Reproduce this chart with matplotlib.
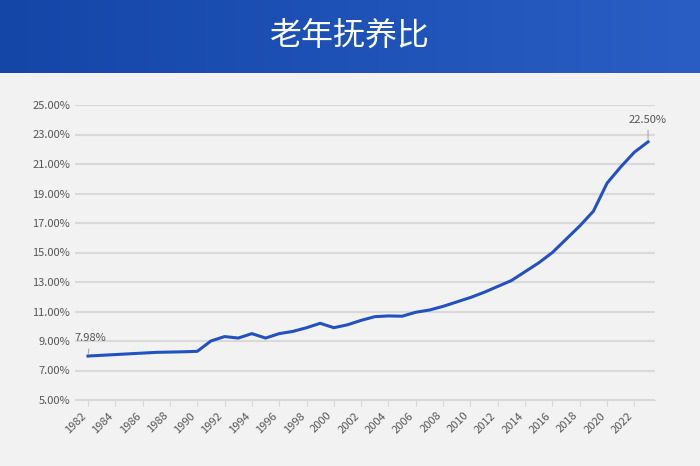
import matplotlib
matplotlib.use("Agg")
import matplotlib.pyplot as plt
import numpy as np
from matplotlib.colors import LinearSegmentedColormap

years = list(range(1982, 2024))
values = [7.98, 8.03, 8.08, 8.13, 8.18, 8.23, 8.25, 8.27, 8.30, 9.00, 9.30, 9.20, 9.50, 9.20, 9.50, 9.65, 9.90, 10.20,
          9.90, 10.10, 10.40, 10.65, 10.70, 10.68, 10.95, 11.10, 11.35, 11.65, 11.95, 12.30, 12.70, 13.10, 13.70, 14.30,
          15.00, 15.90, 16.80, 17.80, 19.70, 20.80, 21.80, 22.50]
yticks = [5, 7, 9, 11, 13, 15, 17, 19, 21, 23, 25]

plt.rcParams['font.family'] = ['Noto Sans CJK SC', 'DejaVu Sans']
fig = plt.figure(figsize=(7, 4.66), dpi=100, facecolor='#f2f2f2')

bax = fig.add_axes([0, 1 - 73/466, 1, 73/466])
grad = np.linspace(0, 1, 256).reshape(1, -1)
cmap = LinearSegmentedColormap.from_list('b', ['#1446a8', '#2a5ec4'])
bax.imshow(grad, aspect='auto', cmap=cmap, extent=[0, 1, 0, 1])
bax.set_axis_off()
bax.text(0.5, 0.5, '老年抚养比', color='white', fontsize=23, ha='center', va='center', transform=bax.transAxes)

ax = fig.add_axes([75/700, 1 - 400/466, 580/700, 295/466])
ax.set_facecolor('#f2f2f2')
ax.plot(years, values, color='#2352c0', lw=2.2)
ax.set_ylim(5, 25)
ax.set_xlim(1981.05, 2023.51)
ax.set_yticks(yticks)
ax.set_yticklabels([f'{v:.2f}%' for v in yticks], fontsize=8, color='#555555')
ax.set_xticks(years[::2])
ax.set_xticklabels([str(y) for y in years[::2]], rotation=45, ha='right', fontsize=8, color='#555555')
ax.grid(axis='y', color='#d9d9d9', lw=1.5)
ax.set_axisbelow(True)
for s in ['top', 'right', 'left']:
    ax.spines[s].set_visible(False)
ax.spines['bottom'].set_color('#d9d9d9')
ax.tick_params(axis='y', length=0)
ax.tick_params(axis='x', color='#d9d9d9', length=4)
ax.annotate('7.98%', (years[0], values[0]), xytext=(years[0] - 1.0, values[0] + 1.0), fontsize=8, color='#555555',
            arrowprops=dict(arrowstyle='-', color='#aaaaaa', lw=0.8))
ax.annotate('22.50%', (years[-1], values[-1]), xytext=(years[-1], values[-1] + 1.3), fontsize=8, color='#555555',
            ha='center', arrowprops=dict(arrowstyle='-', color='#aaaaaa', lw=0.8))
fig.savefig('out.png', dpi=100, facecolor=fig.get_facecolor())
